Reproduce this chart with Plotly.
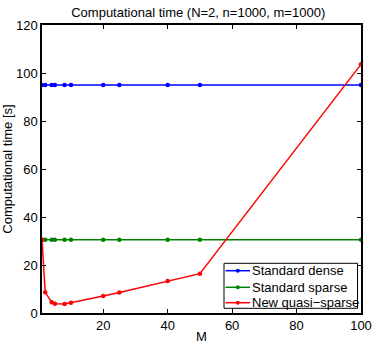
import plotly.graph_objects as go

M = [1, 2, 4, 5, 8, 10, 20, 25, 40, 50, 100]
dense = [95, 95, 95, 95, 95, 95, 95, 95, 95, 95, 95]
sparse = [30.5, 30.5, 30.5, 30.5, 30.5, 30.5, 30.5, 30.5, 30.5, 30.5, 30.5]
quasi = [30.5, 8.6, 4.5, 3.9, 3.8, 4.3, 7.1, 8.5, 13.3, 16.4, 103.6]
names = ["Standard dense", "Standard sparse", "New quasi\u2212sparse"]
colors = ["#0000ff", "#008000", "#ff0000"]
xticks = [20, 40, 60, 80, 100]
yticks = [0, 20, 40, 60, 80, 100, 120]

FONT = "Liberation Sans, Arial, sans-serif"
TXT = 13

# plot area in pixels: left 42, right 361, top 25, bottom 313
PW, PH = 319.0, 288.0


def px_x(p):
    return (p - 42) / PW


def px_y(p):
    return (313 - p) / PH


fig = go.Figure()
for ys, nm, c in zip([dense, sparse, quasi], names, colors):
    fig.add_trace(go.Scatter(x=M, y=ys, name=nm, mode="lines+markers",
                             line=dict(color=c, width=1.5),
                             marker=dict(color=c, size=4.5), showlegend=False))

axis_common = dict(showline=True, linecolor="black", linewidth=1.5, mirror="ticks",
                   ticks="inside", ticklen=4, tickcolor="black", tickwidth=1,
                   showgrid=False, zeroline=False, automargin=False,
                   tickfont=dict(family=FONT, size=13, color="black"))

# legend box (drawn in paper coordinates)
shapes = [dict(type="rect", xref="paper", yref="paper",
               x0=px_x(224), x1=px_x(357.5), y0=px_y(308.3), y1=px_y(263.3),
               line=dict(color="black", width=1), fillcolor="white", layer="above")]
annotations = []
row_y = [270.7, 287.3, 302.7]
for nm, c, ry in zip(names, colors, row_y):
    shapes.append(dict(type="line", xref="paper", yref="paper",
                       x0=px_x(225.5), x1=px_x(250), y0=px_y(ry), y1=px_y(ry),
                       line=dict(color=c, width=1.5), layer="above"))
    shapes.append(dict(type="circle", xref="paper", yref="paper",
                       x0=px_x(235.8), x1=px_x(239.8), y0=px_y(ry + 2), y1=px_y(ry - 2),
                       line=dict(color=c, width=0), fillcolor=c, layer="above"))
    annotations.append(dict(text=nm, xref="paper", yref="paper", x=px_x(250.5), y=px_y(ry),
                            xanchor="left", yanchor="middle", showarrow=False,
                            font=dict(family=FONT, size=TXT, color="black"), borderpad=0))

fig.update_layout(
    width=374, height=344,
    margin=dict(l=42, r=13, t=25, b=31),
    paper_bgcolor="white", plot_bgcolor="white",
    title=dict(text="Computational time (N=2, n=1000, m=1000)", x=0.53, xanchor="center",
               y=0.965, yanchor="middle",
               font=dict(family=FONT, size=TXT, color="black")),
    xaxis=dict(range=[1, 100], tickvals=xticks,
               title=dict(text="M", standoff=2, font=dict(family=FONT, size=TXT, color="black")),
               **axis_common),
    yaxis=dict(range=[0, 120], tickvals=yticks,
               title=dict(text="Computational time [s]", standoff=1,
                          font=dict(family=FONT, size=TXT, color="black")),
               **axis_common),
    shapes=shapes,
    annotations=annotations,
    showlegend=False,
)

fig.write_html("out.html", config={"displayModeBar": False},
               post_script="document.body.style.margin='0';")
